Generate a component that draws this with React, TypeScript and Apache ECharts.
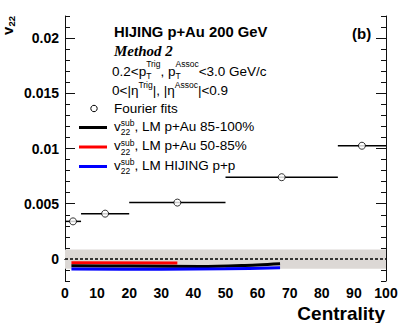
import React, { useEffect, useRef } from 'react';
import * as echarts from 'echarts';

// Fourier fits (points with horizontal bin-width bars)
const fourierX = [2.5, 12.5, 35, 67.5, 92.5];
const fourierLo = [0, 5, 20, 50, 85];
const fourierHi = [5, 20, 50, 85, 100];
const fourierY = [0.0034, 0.0041, 0.0051, 0.0074, 0.01025];

// LM curves
const lmPAu85X = [2, 20, 42, 55, 67];
const lmPAu85Y = [-0.00063, -0.00065, -0.00069, -0.0006, -0.00043];
const lmPAu50X = [2, 35];
const lmPAu50Y = [-0.00035, -0.00037];
const lmPPX = [2, 30, 50, 67];
const lmPPY = [-0.00092, -0.00093, -0.0009, -0.00081];

// systematic band around zero
const bandLo = -0.0009;
const bandHi = 0.00085;

// axes
const xMin = 0;
const xMax = 100;
const xStep = 10;
const yMin = -0.002;
const yMax = 0.022;
const yMajorTicks = [0, 0.005, 0.01, 0.015, 0.02];
const yTickLabels = ['0', '0.005', '0.01', '0.015', '0.02'];
const yMinorTicks = [
  -0.002, -0.001, 0, 0.001, 0.002, 0.003, 0.004, 0.005, 0.006, 0.007, 0.008, 0.009, 0.01,
  0.011, 0.012, 0.013, 0.014, 0.015, 0.016, 0.017, 0.018, 0.019, 0.02, 0.021, 0.022,
];

const SANS = '"Liberation Sans", Arial, Helvetica, sans-serif';
const SERIF = '"Liberation Serif", "Times New Roman", serif';

let ctx: CanvasRenderingContext2D | null = null;
function measure(t: string, size: number, weight = 'normal', family = SANS, style = 'normal') {
  if (!ctx) ctx = document.createElement('canvas').getContext('2d');
  if (!ctx) return t.length * size * 0.55;
  ctx.font = `${style} ${weight} ${size}px ${family}`;
  return ctx.measureText(t).width;
}

type Piece = { t: string; s: number; dy?: number; st?: boolean };

function flow(x0: number, y0: number, pieces: Piece[]) {
  const out: any[] = [];
  let x = x0;
  let lastX = x0;
  let lastW = 0;
  pieces.forEach((p) => {
    const w = measure(p.t, p.s);
    let px: number;
    if (p.st) {
      px = lastX;
      const adv = Math.max(lastW, w);
      x = lastX + adv;
      lastW = adv;
    } else {
      px = x;
      lastX = x;
      lastW = w;
      x = x + w;
    }
    out.push(txt(p.t, px, y0 + (p.dy || 0), p.s));
  });
  return out;
}

function txt(t: string, x: number, y: number, size: number, weight = 'normal', family = SANS, fontStyle = 'normal', align = 'left') {
  return {
    type: 'text',
    x,
    y,
    silent: true,
    style: {
      text: t,
      fill: '#000',
      fontSize: size,
      fontWeight: weight,
      fontFamily: family,
      fontStyle,
      align,
      textAlign: align,
      verticalAlign: 'middle',
      textVerticalAlign: 'middle',
    },
  };
}

export default function App() {
  const ref = useRef<HTMLDivElement>(null);
  useEffect(() => {
    if (!ref.current) return;
    const chart = echarts.init(ref.current, undefined, { renderer: 'svg' });
    const majorLabel = (v: number) => {
      let best = 0;
      yMajorTicks.forEach((m, i) => {
        if (Math.abs(m - v) < Math.abs(yMajorTicks[best] - v)) best = i;
      });
      return yTickLabels[best];
    };
    const axisLine = { show: true, lineStyle: { color: '#111', width: 1 } };
    const xAxisBase = {
      type: 'value',
      min: xMin,
      max: xMax,
      interval: xStep,
      splitLine: { show: false },
      axisLine,
      axisTick: { show: true, inside: true, length: 8, lineStyle: { color: '#111' } },
      minorTick: { show: true, splitNumber: 2, length: 4, lineStyle: { color: '#111' } },
    };
    const yAxisBase = {
      type: 'value',
      min: yMin,
      max: yMax,
      splitLine: { show: false },
    };
    const legendMain = 13.5;
    const scriptSize = 8.5;
    const legendRows = [
      { y: 127.5, color: '#000', text: ', LM p+Au 85-100%' },
      { y: 147, color: '#ff0000', text: ', LM p+Au 50-85%' },
      { y: 166.5, color: '#0000ff', text: ', LM HIJING p+p' },
    ];
    const graphics: any[] = [];
    // y-axis title v22 (rotated)
    graphics.push({
      type: 'group',
      x: 7.6,
      y: 35,
      rotation: Math.PI / 2,
      children: [txt('v', 0, 0, 15, 'bold'), txt('22', 8.5, 3.5, 9.5, 'bold')],
    });
    graphics.push(txt('Centrality', 385, 313, 19, 'bold', SANS, 'normal', 'right'));
    graphics.push(txt('HIJING p+Au 200 GeV', 114, 32, 14.8, 'bold'));
    graphics.push(txt('(b)', 352, 33, 15, 'bold'));
    graphics.push(txt('Method 2', 114, 51, 15, 'bold', SERIF, 'italic'));
    graphics.push(
      ...flow(112, 71, [
        { t: '0.2<p', s: legendMain },
        { t: 'Trig', s: scriptSize, dy: -7.5 },
        { t: 'T', s: scriptSize, dy: 4.5, st: true },
        { t: ', p', s: legendMain },
        { t: 'Assoc', s: scriptSize, dy: -7.5 },
        { t: 'T', s: scriptSize, dy: 4.5, st: true },
        { t: '<3.0 GeV/c', s: legendMain },
      ])
    );
    graphics.push(
      ...flow(112, 90, [
        { t: '0<|η', s: legendMain },
        { t: 'Trig', s: scriptSize, dy: -5.5 },
        { t: '|, |η', s: legendMain },
        { t: 'Assoc', s: scriptSize, dy: -5.5 },
        { t: '|<0.9', s: legendMain },
      ])
    );
    graphics.push({
      type: 'circle',
      shape: { cx: 94, cy: 108.5, r: 3.2 },
      style: { fill: '#fff', stroke: '#000', lineWidth: 1 },
      silent: true,
    });
    graphics.push(txt('Fourier fits', 114, 108.5, legendMain));
    legendRows.forEach((r) => {
      graphics.push({
        type: 'line',
        shape: { x1: 79, y1: r.y, x2: 107, y2: r.y },
        style: { stroke: r.color, lineWidth: 3 },
        silent: true,
      });
      graphics.push(
        ...flow(114, r.y - 1.5, [
          { t: 'v', s: legendMain },
          { t: 'sub', s: scriptSize, dy: -3 },
          { t: '22', s: scriptSize, dy: 6, st: true },
          { t: r.text, s: legendMain },
        ])
      );
    });

    chart.setOption({
      animation: false,
      backgroundColor: '#fff',
      grid: { left: 65, right: 21, top: 16, bottom: 42, containLabel: false },
      xAxis: [
        {
          ...xAxisBase,
          position: 'bottom',
          axisLabel: {
            show: true,
            fontFamily: SANS,
            fontWeight: 'bold',
            fontSize: 14,
            color: '#000',
            margin: 5,
          },
        },
        { ...xAxisBase, position: 'top', axisLabel: { show: false } },
      ],
      yAxis: [
        {
          ...yAxisBase,
          position: 'left',
          axisLine,
          axisTick: { show: true, inside: true, length: 10, customValues: yMajorTicks, lineStyle: { color: '#111' } },
          axisLabel: {
            show: true,
            customValues: yMajorTicks,
            formatter: (v: number) => majorLabel(v),
            fontFamily: SANS,
            fontWeight: 'bold',
            fontSize: 14,
            color: '#000',
            margin: 6,
          },
        },
        {
          ...yAxisBase,
          position: 'left',
          axisLine: { show: false },
          axisTick: { show: true, inside: true, length: 5, customValues: yMinorTicks, lineStyle: { color: '#111' } },
          axisLabel: { show: false },
        },
        {
          ...yAxisBase,
          position: 'right',
          axisLine,
          axisTick: { show: true, inside: true, length: 10, customValues: yMajorTicks, lineStyle: { color: '#111' } },
          axisLabel: { show: false },
        },
        {
          ...yAxisBase,
          position: 'right',
          axisLine: { show: false },
          axisTick: { show: true, inside: true, length: 5, customValues: yMinorTicks, lineStyle: { color: '#111' } },
          axisLabel: { show: false },
        },
      ],
      series: [
        {
          type: 'line',
          name: 'zero',
          xAxisIndex: 0,
          yAxisIndex: 0,
          data: [
            [xMin, 0],
            [xMax, 0],
          ],
          symbol: 'none',
          lineStyle: { color: '#000', width: 1.5, type: [3, 2] },
          z: 3,
          markArea: {
            silent: true,
            itemStyle: { color: '#dcd8d5' },
            data: [[{ xAxis: xMin, yAxis: bandLo }, { xAxis: xMax, yAxis: bandHi }]],
            z: 1,
          },
        },
        {
          type: 'line',
          name: 'LM p+Au 50-85%',
          data: lmPAu50X.map((x, i) => [x, lmPAu50Y[i]]),
          symbol: 'none',
          lineStyle: { color: '#ff0000', width: 3 },
          z: 4,
        },
        {
          type: 'line',
          name: 'LM p+Au 85-100%',
          data: lmPAu85X.map((x, i) => [x, lmPAu85Y[i]]),
          symbol: 'none',
          smooth: 0.3,
          lineStyle: { color: '#000', width: 3 },
          z: 4,
        },
        {
          type: 'line',
          name: 'LM HIJING p+p',
          data: lmPPX.map((x, i) => [x, lmPPY[i]]),
          symbol: 'none',
          smooth: 0.3,
          lineStyle: { color: '#0000ff', width: 3 },
          z: 5,
        },
        {
          type: 'custom',
          name: 'bins',
          data: fourierX.map((x, i) => [fourierLo[i], fourierY[i], fourierHi[i]]),
          renderItem: (params: any, api: any) => {
            const p1 = api.coord([api.value(0), api.value(1)]);
            const p2 = api.coord([api.value(2), api.value(1)]);
            return {
              type: 'line',
              shape: { x1: p1[0], y1: p1[1], x2: p2[0], y2: p2[1] },
              style: { stroke: '#000', lineWidth: 1.5 },
            };
          },
          z: 6,
        },
        {
          type: 'scatter',
          name: 'Fourier fits',
          data: fourierX.map((x, i) => [x, fourierY[i]]),
          symbol: 'circle',
          symbolSize: 7,
          itemStyle: { color: '#fff', borderColor: '#000', borderWidth: 1 },
          z: 7,
        },
      ],
      graphic: graphics,
    });
    return () => chart.dispose();
  }, []);
  return (
    <div
      ref={ref}
      style={{ position: 'fixed', left: 0, top: 0, width: 407, height: 323, background: '#fff' }}
    />
  );
}
